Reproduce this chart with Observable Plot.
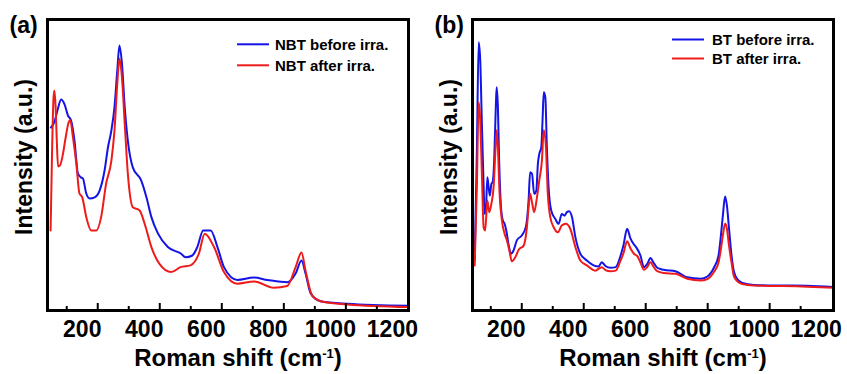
<!DOCTYPE html>
<html>
<head>
<meta charset="utf-8">
<script src="https://cdn.jsdelivr.net/npm/d3@7"></script>
<script src="https://cdn.jsdelivr.net/npm/@observablehq/plot@0.6"></script>
<style>
  html, body { margin: 0; padding: 0; background: #fff; }
  #figure { position: relative; width: 847px; height: 374px; overflow: hidden; }
  #figure svg { position: absolute; top: 0; }
</style>
</head>
<body>
<div id="figure"></div>
<script>
// Raman spectra, [shift (cm-1), intensity (a.u.)]
const nbtBefore = [[99,62.9],[111,65.0],[120,68.7],[132,72.5],[143,70.8],[154,67.0],[164,65.3],[175,58.4],[186,47.1],[195,45.8],[202,45.4],[213,40.2],[224,38.5],[240,38.9],[256,41.2],[272,48.1],[283,56.1],[294,61.9],[304,69.9],[313,82.5],[320,91.1],[328,84.9],[337,69.9],[347,58.4],[363,49.2],[390,44.7],[407,38.9],[423,32.1],[444,26.5],[476,21.8],[519,19.5],[533,18.3],[555,18.9],[571,21.8],[590,27.5],[614,27.5],[636,21.8],[657,14.9],[700,10.5],[753,11.3],[797,10.5],[861,9.7],[888,12.7],[907,17.2],[920,12.7],[937,5.8],[969,3.2],[1055,2.3],[1252,1.6]];
const nbtAfter = [[98,27.5],[102,50.5],[107,72.2],[110,75.6],[114,70.4],[118,58.4],[122,49.5],[128,49.8],[137,53.3],[146,59.1],[156,64.6],[161,65.5],[170,59.6],[181,50.5],[191,40.2],[200,38.9],[213,32.1],[229,27.5],[245,27.5],[261,32.1],[277,43.6],[294,51.5],[304,61.9],[313,78.0],[320,86.5],[328,80.2],[337,64.3],[347,47.1],[363,35.5],[385,34.4],[401,29.9],[423,21.8],[449,16.0],[487,13.2],[517,14.9],[549,15.5],[576,19.5],[595,26.4],[625,21.8],[657,13.2],[700,9.2],[754,10.0],[818,7.8],[861,8.4],[888,14.9],[907,19.9],[920,13.7],[942,5.0],[979,2.9],[1055,2.1],[1252,1.2]];
const btBefore = [[98,17.2],[105,53.8],[111,92.2],[116,85.9],[121,65.3],[127,42.4],[130,33.2],[134,34.4],[139,45.8],[143,42.4],[147,39.5],[152,43.5],[156,44.1],[161,51.5],[166.5,71.0],[169,76.7],[173,69.9],[177,51.5],[183,35.5],[189,30.9],[194.5,29.8],[200,27.5],[207,22.9],[215,19.5],[223.5,20.6],[234,24.1],[250,25.8],[263,28.6],[272,37.8],[277,47.5],[283,47.0],[290,40.1],[297,41.2],[302,50.4],[306.5,53.8],[313,56.1],[317,65.3],[321,75.0],[326,73.3],[331,56.1],[336.5,42.4],[345,34.4],[358,31.5],[369,29.8],[379,33.2],[388,32.6],[395.5,33.8],[403,34.1],[412,32.1],[423,25.2],[439,19.5],[460,17.2],[482,15.5],[498,15.1],[508,16.6],[520,15.3],[536.5,14.7],[553,14.9],[569,18.9],[578,22.3],[590,28.1],[601,24.7],[612,22.7],[620,21.6],[633,18.9],[644,14.9],[655,16.0],[665.5,18.0],[675,16.5],[687,14.7],[708,14.0],[746,13.5],[784,11.4],[827,10.9],[849,11.7],[870,14.7],[885,18.9],[891,24.1],[899,32.6],[906,39.2],[912,36.1],[918,29.2],[927,18.9],[934,13.7],[946,10.7],[962,9.5],[999,8.8],[1085,8.6],[1171,8.5],[1256,8.1]];
const btAfter = [[98,15.5],[105,42.4],[111,71.6],[116,65.3],[121,48.1],[127,28.6],[132,27.5],[139,37.8],[145,33.8],[152,36.7],[159,42.4],[164.5,53.8],[169,61.9],[173,56.1],[178,41.2],[186,30.9],[194.5,26.4],[202,24.1],[210,20.6],[218,16.9],[229,18.3],[240,20.9],[256,22.3],[266.5,28.6],[272,35.5],[277,40.1],[283,37.2],[290,33.8],[299,38.9],[306.5,44.7],[315,51.5],[321,61.9],[328,56.1],[334,40.1],[342,32.1],[353,28.6],[366.5,26.9],[379,29.2],[392,29.8],[406.5,28.1],[423,21.8],[439,17.2],[460,15.5],[487,13.7],[508,14.9],[520,13.9],[536.5,13.5],[553,13.7],[569,17.2],[578,19.6],[590,23.8],[601,21.3],[612,19.5],[623.5,18.6],[633,16.5],[644,14.0],[655,14.9],[665.5,16.6],[675,15.1],[687,13.5],[708,12.9],[746,12.6],[784,10.9],[827,10.3],[849,10.8],[870,13.2],[885,16.5],[891,20.0],[899,25.8],[906,29.8],[912,28.2],[918,22.9],[927,16.5],[934,12.0],[946,10.0],[962,9.1],[999,8.6],[1171,8.2],[1256,7.8]];

const xLabelTicks = [200, 400, 600, 800, 1000, 1200];
const xMajorTicks = [250, 450, 650, 850, 1050];
const xMinorTicks = [150, 350, 550, 750, 950, 1150];
const nbtNames = ["NBT before irra.", "NBT after irra."];
const btNames = ["BT before irra.", "BT after irra."];
const yTitle = "Intensity (a.u.)";
const xTitleParts = ["Roman shift (cm", "-1", ")"];

const BLUE = "#1414e6";
const RED = "#ee1b1b";
const FONT = '"Liberation Sans", Arial, Helvetica, sans-serif';

const panels = [
  {tag: "(a)", domain: [88, 1252], before: nbtBefore, after: nbtAfter, names: nbtNames,
   left: 0, swatchX: 237, textX: 275, rows: [44.8, 65.8]},
  {tag: "(b)", domain: [91, 1256], before: btBefore, after: btAfter, names: btNames,
   left: 425, swatchX: 247, textX: 287, rows: [40, 59]}
];

const fig = document.getElementById("figure");

for (const p of panels) {
  const svg = Plot.plot({
    width: 422,
    height: 374,
    marginLeft: 47,
    marginRight: 14,
    marginTop: 19,
    marginBottom: 64,
    style: {fontFamily: FONT, fontWeight: "bold", background: "white", color: "black", overflow: "visible"},
    x: {domain: p.domain},
    y: {domain: [0, 100], axis: null},
    marks: [
      Plot.line(p.before, {x: d => d[0], y: d => d[1], stroke: BLUE, strokeWidth: 2, curve: "monotone-x"}),
      Plot.line(p.after, {x: d => d[0], y: d => d[1], stroke: RED, strokeWidth: 2, curve: "monotone-x"}),
      Plot.axisX(xLabelTicks, {tickSize: 0, tickPadding: 10, tickFormat: d => String(d), fontSize: 23, fontWeight: "bold", label: null, fill: "black"}),
      // inward tick marks along the bottom edge
      Plot.tickX(xMajorTicks, {x: d => d, insetTop: 284, stroke: "black", strokeWidth: 2}),
      Plot.tickX(xMinorTicks, {x: d => d, insetTop: 287, stroke: "black", strokeWidth: 2}),
      Plot.frame({stroke: "black", strokeWidth: 3}),
      Plot.text([p.tag], {frameAnchor: "top-left", dx: -38, dy: 6, textAnchor: "start", lineAnchor: "middle", fontSize: 23, fontWeight: "bold", fill: "black"}),
      Plot.text([yTitle], {frameAnchor: "left", rotate: -90, dx: -23, dy: -8, textAnchor: "middle", lineAnchor: "middle", fontSize: 23, fontWeight: "bold", fill: "black"}),
      Plot.text([xTitleParts.join("")], {frameAnchor: "bottom", dx: 10, dy: 48, textAnchor: "middle", lineAnchor: "middle", fontSize: 24, fontWeight: "bold", fill: "black"})
    ]
  });
  svg.style.left = p.left + "px";

  // superscript for the unit in the x title
  svg.querySelectorAll("text").forEach(t => {
    if (t.textContent === xTitleParts.join("")) {
      t.textContent = xTitleParts[0];
      const sup = document.createElementNS("http://www.w3.org/2000/svg", "tspan");
      sup.setAttribute("font-size", "13");
      sup.setAttribute("dy", "-8");
      sup.textContent = xTitleParts[1];
      const close = document.createElementNS("http://www.w3.org/2000/svg", "tspan");
      close.setAttribute("dy", "8");
      close.textContent = xTitleParts[2];
      t.appendChild(sup);
      t.appendChild(close);
    }
  });

  // in-plot legend
  const g = d3.select(svg).append("g")
    .attr("font-family", FONT).attr("font-weight", "bold").attr("font-size", 15)
    .attr("text-anchor", "start");
  [BLUE, RED].forEach((c, i) => {
    const cy = p.rows[i];
    g.append("line").attr("x1", p.swatchX).attr("x2", p.swatchX + 32)
      .attr("y1", cy - 0.5).attr("y2", cy - 0.5).attr("stroke", c).attr("stroke-width", 2);
    g.append("text").attr("x", p.textX).attr("y", cy + 5.4).attr("fill", "black").text(p.names[i]);
  });

  fig.appendChild(svg);
}
</script>
</body>
</html>
